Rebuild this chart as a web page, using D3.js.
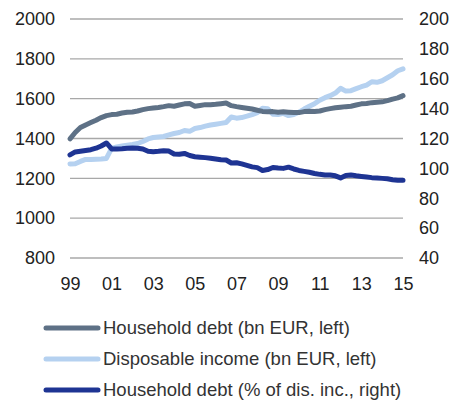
<!DOCTYPE html>
<html>
<head>
<meta charset="utf-8">
<script src="https://cdn.jsdelivr.net/npm/d3@7"></script>
<style>
  body { margin: 0; background: #fff; }
  svg { display: block; font-family: "Liberation Sans", Arial, sans-serif; }
</style>
</head>
<body>
<svg id="canvas" width="452" height="404"></svg>
<script>
// quarterly, 1999Q1 .. 2015Q1
let startYear = 1999

let debtBn = [
  1398, 1430, 1455, 1468,  1480, 1492, 1505, 1515,
  1520, 1522, 1528, 1532,  1533, 1538, 1545, 1550,
  1553, 1556, 1560, 1565,  1562, 1568, 1574, 1576,
  1562, 1566, 1570, 1570,  1572, 1575, 1578, 1565,
  1560, 1556, 1552, 1548,  1542, 1536, 1534, 1535,
  1532, 1534, 1532, 1530,  1530, 1535, 1537, 1536,
  1538, 1545, 1550, 1554,  1557, 1560, 1562, 1568,
  1574, 1576, 1580, 1582,  1584, 1590, 1598, 1604,
  1615
]

let incomeBn = [
  1272, 1273, 1285, 1295,  1295, 1296, 1297, 1300,
  1350, 1358, 1362, 1366,  1370, 1375, 1385, 1398,
  1405, 1408, 1410, 1418,  1425, 1430, 1440, 1436,
  1450, 1455, 1462, 1468,  1472, 1476, 1480, 1508,
  1502, 1505, 1512, 1520,  1530, 1552, 1550, 1522,
  1520, 1526, 1515, 1520,  1532, 1548, 1562, 1575,
  1592, 1605, 1615, 1628,  1652, 1638, 1640, 1650,
  1660, 1668, 1685, 1682,  1690, 1705, 1720, 1740,
  1750
]

let debtPct = [
  109, 111, 111.5, 112,  112.5, 113.5, 115, 117,
  113, 113, 113.2, 113.5,  113.6, 113.5, 113, 111.5,
  111.2, 111.4, 111.8, 111.6,  109.6, 109.4, 110, 108.6,
  107.8, 107.5, 107.2, 106.8,  106.3, 105.8, 105.6, 103.6,
  103.8, 103, 102, 101,  100.5, 98.6, 99.2, 100.6,
  100.2, 100, 100.8, 99.6,  98.6, 98, 97.4, 96.6,
  96, 95.6, 95.5, 95,  93.6, 95.2, 95.5, 95,
  94.6, 94.2, 93.8, 93.6,  93.3, 93, 92.4, 92,
  92
]

let xTicks = [1999, 2001, 2003, 2005, 2007, 2009, 2011, 2013, 2015]
let leftTicks = [800, 1000, 1200, 1400, 1600, 1800, 2000]
let rightTicks = [40, 60, 80, 100, 120, 140, 160, 180, 200]

let seriesNames = [
  'Household debt (bn EUR, left)',
  'Disposable income (bn EUR, left)',
  'Household debt (% of dis. inc., right)'
]
let colors = ['#5e7186', '#b5d1f0', '#1e3493']

let canvas = d3.select('#canvas')

let xScale = d3.scaleLinear().domain([1999, 2015]).range([70, 403])
let yLeft = d3.scaleLinear().domain([800, 2000]).range([258, 19])
let yRight = d3.scaleLinear().domain([40, 200]).range([258, 19])

// gridlines
canvas.append('g')
  .selectAll('line')
  .data(leftTicks)
  .enter()
  .append('line')
  .attr('x1', xScale(1999))
  .attr('x2', xScale(2015))
  .attr('y1', (d) => yLeft(d))
  .attr('y2', (d) => yLeft(d))
  .attr('stroke', '#a8a8a8')
  .attr('stroke-width', 1.3)

let leftAxis = canvas.append('g')
  .attr('transform', 'translate(55,0)')
  .call(d3.axisLeft(yLeft).tickValues(leftTicks).tickSize(0).tickPadding(0).tickFormat(d3.format('d')))
let rightAxis = canvas.append('g')
  .attr('transform', 'translate(419,0)')
  .call(d3.axisRight(yRight).tickValues(rightTicks).tickSize(0).tickPadding(0).tickFormat(d3.format('d')))
let bottomAxis = canvas.append('g')
  .attr('transform', 'translate(0,276)')
  .call(d3.axisBottom(xScale).tickValues(xTicks).tickSize(0).tickPadding(0)
    .tickFormat((d) => String(d % 100).padStart(2, '0')))

canvas.selectAll('.domain').remove()
canvas.selectAll('.tick text')
  .attr('font-size', 18)
  .attr('fill', '#222')
  .attr('font-family', '"Liberation Sans", Arial, sans-serif')
bottomAxis.selectAll('.tick text').attr('dy', '0.75em')

let quarterX = (i) => xScale(startYear + i / 4)

let lineLeft = d3.line()
  .x((d, i) => quarterX(i))
  .y((d) => yLeft(d))
let lineRight = d3.line()
  .x((d, i) => quarterX(i))
  .y((d) => yRight(d))

let paths = [
  [debtBn, lineLeft],
  [incomeBn, lineLeft],
  [debtPct, lineRight]
]

// draw income first, then debt, then % line on top
let order = [1, 0, 2]
order.forEach((k) => {
  canvas.append('path')
    .datum(paths[k][0])
    .attr('d', paths[k][1])
    .attr('fill', 'none')
    .attr('stroke', colors[k])
    .attr('stroke-width', 5)
    .attr('stroke-linejoin', 'round')
    .attr('stroke-linecap', 'round')
})

// legend
let legend = canvas.append('g')
  .selectAll('g')
  .data(seriesNames)
  .enter()
  .append('g')
  .attr('transform', (d, i) => 'translate(0,' + (328 + i * 31) + ')')

legend.append('line')
  .attr('x1', 46)
  .attr('x2', 98)
  .attr('stroke', (d, i) => colors[i])
  .attr('stroke-width', 5)
  .attr('stroke-linecap', 'round')

legend.append('text')
  .text((d) => d)
  .attr('x', 103)
  .attr('dy', '0.35em')
  .attr('font-size', 18.5)
  .attr('fill', '#333')
</script>
</body>
</html>
